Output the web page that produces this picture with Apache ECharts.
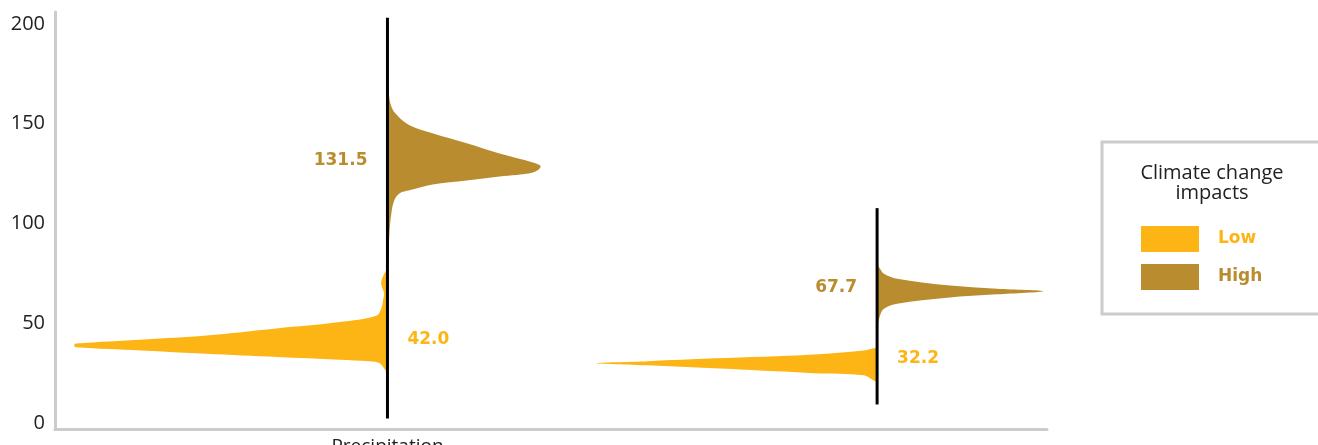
<!DOCTYPE html>
<html>
<head>
<meta charset="utf-8">
<script src="https://cdn.jsdelivr.net/npm/echarts@6/dist/echarts.min.js"></script>
<style>
  html, body { margin: 0; padding: 0; background: #fff; }
  #chart { width: 1318px; height: 445px; }
</style>
</head>
<body>
<div id="chart"></div>
<script>
// ── Data ───────────────────────────────────────────────
const CATEGORIES  = ['Precipitation', ''];
const SERIES      = ['Low', 'High'];
const Y_TICKS     = [0, 50, 100, 150, 200];

// medians shown as labels
const LOW_MEDIAN  = [42.0, 32.2];
const HIGH_MEDIAN = [131.5, 67.7];

// full range (black line)
const RANGE_MIN   = [2.3, 9.3];
const RANGE_MAX   = [203.1, 107.7];

// density outline: value level + half width (% of category spacing)
const LOW_LEVELS = [
  [25.4, 26.4, 29.9, 30.9, 31.7, 33.1, 34.7, 36.4, 38.0, 38.9, 39.8, 41.9, 43.9, 47.4, 50.6, 53.9, 57.9, 61.5, 65.0, 70.0, 74.0, 77.5],
  [20.4, 21.4, 23.9, 25.0, 27.4, 28.9, 30.0, 31.0, 32.4, 34.4, 36.4, 37.9],
];
const LOW_WIDTHS = [
  [0, 0.4, 1.6, 3.7, 9.8, 22.5, 37, 50.3, 63.6, 64, 63.6, 49.8, 37, 22.7, 9.8, 2.2, 1.2, 0.9, 0.7, 1.3, 0.8, 0],
  [0, 0.8, 2.7, 12.9, 33.3, 46.8, 57.1, 46.8, 33.3, 12.9, 2.7, 0],
];
const HIGH_LEVELS = [
  [76.5, 81.5, 95.0, 105.1, 111.6, 115.1, 116.6, 119.6, 121.6, 123.6, 125.6, 128.6, 130.6, 135.1, 140.2, 145.2, 149.2, 155.2, 160.2, 167.7, 171.7],
  [46.4, 49.8, 53.9, 57.3, 59.8, 62.8, 64.5, 66.1, 67.3, 69.0, 72.3, 74.8, 78.1, 79.5],
];
const HIGH_WIDTHS = [
  [0, 0.2, 0.4, 0.8, 1.4, 2.5, 4.5, 9.2, 16.2, 22.9, 29.7, 31.3, 29.7, 22.9, 16.2, 9.2, 4.5, 1.6, 0.6, 0.2, 0],
  [0, 0.2, 0.6, 1.4, 4.1, 14.3, 24.5, 33.9, 24.5, 14.3, 4.1, 1.4, 0.4, 0],
];

// ── Style ──────────────────────────────────────────────
const COLOR_LOW  = '#FDB515';
const COLOR_HIGH = '#B98D2F';
const FONT       = '"Open Sans", Lato, sans-serif';
const FONT_BOLD  = '"DejaVu Sans", "Open Sans", sans-serif';
const AXIS_GREY  = '#cccccc';

const chart = echarts.init(document.getElementById('chart'));

// half violin: side -1 = left, +1 = right; label on the opposite side
function violin(levels, widths, medians, side, color) {
  return (params, api) => {
    const i   = params.dataIndex;
    const pts = levels[i].map((v, k) => api.coord([i + side * widths[i][k] / 100, v]));
    const xs  = pts.map(p => p[0]);
    const ys  = pts.map(p => p[1]);
    const box = [[Math.min(...xs), Math.min(...ys)], [Math.max(...xs), Math.max(...ys)]];
    const at  = api.coord([i, medians[i]]);
    return {
      type: 'group',
      children: [
        {
          type: 'polygon',
          shape: { points: pts, smooth: 0.35, smoothConstraint: box },
          style: { fill: color },
        },
        {
          type: 'text',
          x: at[0] - side * 20,
          y: at[1],
          style: {
            text: medians[i].toFixed(1),
            fill: color,
            font: 'bold 17px ' + FONT_BOLD,
            align: side < 0 ? 'left' : 'right',
            verticalAlign: 'middle',
          },
        },
      ],
    };
  };
}

function rangeLine(params, api) {
  const i  = params.dataIndex;
  const p0 = api.coord([i, RANGE_MIN[i]]);
  const p1 = api.coord([i, RANGE_MAX[i]]);
  return {
    type: 'line',
    shape: { x1: p0[0], y1: p0[1], x2: p1[0], y2: p1[1] },
    style: { stroke: '#000', lineWidth: 3 },
  };
}

chart.setOption({
  backgroundColor: '#fff',
  animation: false,

  title: {
    text: 'Climate change\nimpacts',
    left: 1212,
    top: 163,
    padding: 0,
    textAlign: 'center',
    textStyle: { fontFamily: FONT, fontSize: 20, fontWeight: 'normal', color: '#222', lineHeight: 20 },
  },

  legend: {
    orient: 'vertical',
    left: 1102,
    top: 142,
    icon: 'rect',
    itemWidth: 58,
    itemHeight: 26,
    itemGap: 12,
    padding: [84, 130, 24, 39],
    borderColor: AXIS_GREY,
    borderWidth: 3,
    selectedMode: false,
    data: [
      { name: SERIES[0], textStyle: { color: COLOR_LOW } },
      { name: SERIES[1], textStyle: { color: COLOR_HIGH } },
    ],
    textStyle: { fontFamily: FONT_BOLD, fontSize: 17, fontWeight: 'bold', padding: [0, 0, 0, 14] },
  },

  grid: { left: 55, right: 271, top: 12, bottom: 16, containLabel: false, outerBoundsMode: 'none' },

  xAxis: {
    type: 'value',
    min: -0.679,
    max: 1.347,
    splitLine: { show: false },
    axisTick:  { show: false },
    axisLine:  { show: true, onZero: false, lineStyle: { color: AXIS_GREY, width: 3 } },
    axisLabel: {
      customValues: [0, 1],
      formatter: v => CATEGORIES[Math.round(v)],
      fontFamily: FONT,
      fontSize: 19,
      color: '#222',
      margin: 8,
    },
  },

  yAxis: {
    type: 'value',
    min: -3,
    max: 206,
    splitLine: { show: false },
    axisTick:  { show: false },
    axisLine:  { show: true, onZero: false, lineStyle: { color: AXIS_GREY, width: 3 } },
    axisLabel: {
      customValues: Y_TICKS,
      fontFamily: FONT,
      fontSize: 20,
      color: '#222',
      margin: 10,
    },
  },

  series: [
    {
      name: SERIES[0],
      type: 'custom',
      itemStyle: { color: COLOR_LOW },
      renderItem: violin(LOW_LEVELS, LOW_WIDTHS, LOW_MEDIAN, -1, COLOR_LOW),
      data: CATEGORIES.map((c, i) => [i, LOW_MEDIAN[i]]),
      z: 2,
    },
    {
      name: SERIES[1],
      type: 'custom',
      itemStyle: { color: COLOR_HIGH },
      renderItem: violin(HIGH_LEVELS, HIGH_WIDTHS, HIGH_MEDIAN, 1, COLOR_HIGH),
      data: CATEGORIES.map((c, i) => [i, HIGH_MEDIAN[i]]),
      z: 2,
    },
    {
      name: 'range',
      type: 'custom',
      renderItem: rangeLine,
      data: CATEGORIES.map((c, i) => [i, RANGE_MAX[i]]),
      z: 3,
    },
  ],
});
</script>
</body>
</html>
